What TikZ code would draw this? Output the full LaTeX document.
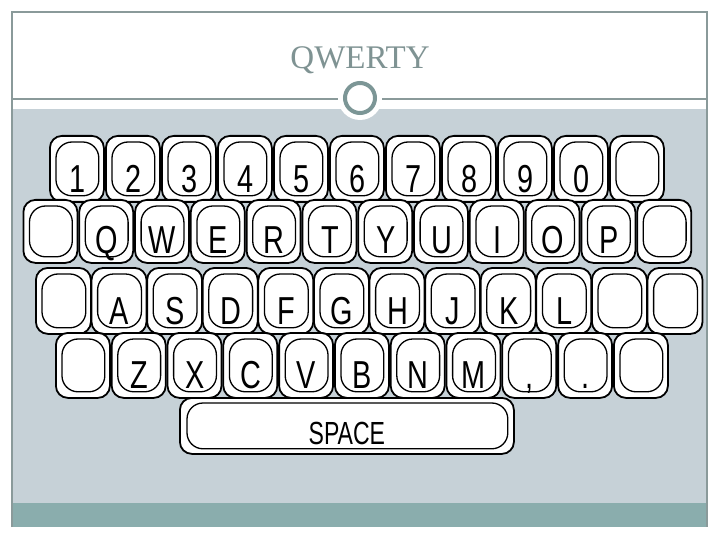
\documentclass[tikz,border=0pt]{standalone}
\usepackage{fontspec}
\setmainfont{Liberation Serif}
\newfontfamily\keyfont{Liberation Sans}
\usepackage{graphicx}
\definecolor{panel}{HTML}{C6D1D7}
\definecolor{barc}{HTML}{8AADAD}
\definecolor{framec}{HTML}{8A9A9A}
\definecolor{ringc}{HTML}{7C9696}
\definecolor{titlec}{HTML}{7F9393}
\tikzset{
  keyouter/.style={draw=black, line width=1.8pt, fill=white, rounded corners=12pt, inner sep=0pt},
  keyinner/.style={draw=black, line width=1.3pt, rounded corners=16pt},
  keylabel/.style={inner sep=0pt, font=\keyfont\fontsize{39}{39}\selectfont},
  titlestyle/.style={text=titlec, font=\fontsize{33}{33}\selectfont},
  framestyle/.style={draw=framec, line width=1.2pt}
}
\newcommand\kbrow[7]{% prefix, x0, pitch, width, top, height, labels
  \foreach \l [count=\i] in {#7} {
    \pgfmathsetmacro\xx{#2+(\i-1)*#3}
    \node[keyouter, minimum width=#4pt, minimum height=#6pt, anchor=north west] (#1\i) at (\xx,#5) {};
    \draw[keyinner] ([xshift=7pt,yshift=-7pt]#1\i.north west) rectangle ([xshift=-6pt,yshift=7pt]#1\i.south east);
    \node[keylabel, anchor=base] (#1\i t) at ([xshift=0.5pt,yshift=10pt]#1\i.south) {\scalebox{0.74}[1]{\l}};
  }
}
\begin{document}
\begin{tikzpicture}[x=1pt,y=-1pt]
\useasboundingbox (0,0) rectangle (720,540);
\fill[white] (0,0) rectangle (720,540);
\fill[panel] (12,109) rectangle (707,503);
\fill[barc] (12,503) rectangle (707,527);
\draw[framestyle] (12,527) -- (12,12) -- (707,12) -- (707,527);
\draw[framestyle] (12,99) -- (707,99);
\fill[white] (360,98) circle (22);
\draw[ringc, line width=4pt] (360,98) circle (15);
\node[titlestyle] (title) at (360,60) {QWERTY};
\kbrow{ra}{49}{56}{54}{135}{66}{1,2,3,4,5,6,7,8,9,0,{}}
\kbrow{rb}{22.5}{55.8}{54}{199}{63}{{},Q,W,E,R,T,Y,U,I,O,P,{}}
\kbrow{rc}{35}{55.6}{55}{267}{66}{{},A,S,D,F,G,H,J,K,L,{},{}}
\kbrow{rd}{55}{55.8}{54}{332}{65}{{},Z,X,C,V,B,N,M,{,},.,{}}
\node[keyouter, minimum width=334pt, minimum height=56pt, anchor=north west] (space) at (179,397) {};
\draw[keyinner] ([xshift=8pt,yshift=-6pt]space.north west) rectangle ([xshift=-7pt,yshift=6pt]space.south east);
\node[keylabel, anchor=base, font=\keyfont\fontsize{32}{32}\selectfont] (spacet) at ([yshift=10pt]space.south) {\scalebox{0.72}[1]{SPACE}};
\end{tikzpicture}
\end{document}
